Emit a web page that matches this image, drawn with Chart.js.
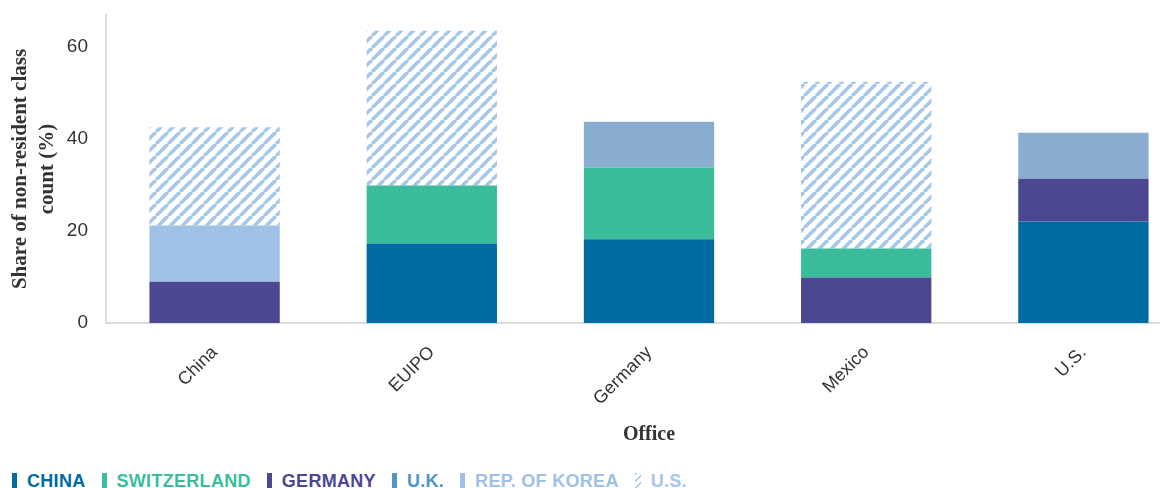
<!DOCTYPE html>
<html>
<head>
<meta charset="utf-8">
<script src="https://cdn.jsdelivr.net/npm/chart.js@4.4.1/dist/chart.umd.min.js"></script>
<style>
  html, body { margin: 0; padding: 0; background: #fff; overflow: hidden; width: 1160px; height: 488px; }
  #wrap { position: absolute; left: 0; top: 0; width: 1195px; height: 460px; }
  #legend { position: absolute; left: 12px; top: 471px; display: flex; align-items: center;
            font: bold 18px "Liberation Sans", Arial, sans-serif; letter-spacing: 0.3px; white-space: nowrap; }
  #legend .item { display: flex; align-items: center; margin-right: 16px; }
  #legend .swatch { width: 5px; height: 18px; margin-right: 10px; }
</style>
</head>
<body>
<div id="wrap"><canvas id="chart" width="1195" height="460"></canvas></div>
<div id="legend"></div>
<script>
// offices on the x axis
const offices = ['China', 'EUIPO', 'Germany', 'Mexico', 'U.S.'];

// share of non-resident class count (%) by origin, per office
const chinaShare       = [null, 17.3, 18.2, null, 22.1];
const germanyShare     = [9.0, null, null, 9.9, 9.3];
const switzerlandShare = [null, 12.6, 15.6, 6.3, null];
const ukShare          = [null, null, 10.0, null, 10.0];
const koreaShare       = [12.2, null, null, null, null];
const usShare          = [21.4, 33.7, null, 36.3, null];

const yTicks = [0, 20, 40, 60];

const colors = {
  china: '#006ba1',
  switzerland: '#3bbd9c',
  germany: '#4b4791',
  uk: '#89adcf',
  korea: '#a0c1e6',
  us: '#a6c6ea'
};

// diagonal stripes for the U.S. series
function stripePattern(color) {
  const s = 12;
  const c = document.createElement('canvas');
  c.width = s; c.height = s;
  const g = c.getContext('2d');
  g.strokeStyle = color;
  g.lineWidth = 3.6;
  for (const k of [-s, 0, s]) {
    g.beginPath();
    g.moveTo(k, s);
    g.lineTo(k + s, 0);
    g.stroke();
  }
  return g.createPattern(c, 'repeat');
}

const hatch = stripePattern(colors.us);

const datasets = [
  { label: 'China', data: chinaShare, backgroundColor: colors.china },
  { label: 'Germany', data: germanyShare, backgroundColor: colors.germany },
  { label: 'Switzerland', data: switzerlandShare, backgroundColor: colors.switzerland },
  { label: 'U.K.', data: ukShare, backgroundColor: colors.uk },
  { label: 'Rep. of Korea', data: koreaShare, backgroundColor: colors.korea },
  { label: 'U.S.', data: usShare, backgroundColor: hatch }
];

const axisGrey = '#dcdcdc';
const textGrey = '#333333';

new Chart(document.getElementById('chart'), {
  type: 'bar',
  data: { labels: offices, datasets: datasets },
  options: {
    responsive: false,
    animation: false,
    devicePixelRatio: 1,
    layout: { padding: { top: 15, right: 3, left: 0, bottom: 0 } },
    datasets: { bar: { categoryPercentage: 1, barPercentage: 0.6, borderWidth: 0 } },
    plugins: { legend: { display: false }, tooltip: { enabled: false } },
    scales: {
      x: {
        stacked: true,
        grid: { display: false },
        border: { color: axisGrey, width: 2 },
        ticks: {
          color: textGrey,
          font: { family: '"Liberation Sans", Arial, sans-serif', size: 18 },
          minRotation: 45, maxRotation: 45, padding: 11
        },
        title: {
          display: true, text: 'Office', color: textGrey,
          font: { family: '"Liberation Serif", serif', size: 20, weight: 'bold' },
          padding: { top: 0, bottom: 13 }
        },
        afterFit: s => { s.height = 137; }
      },
      y: {
        stacked: true,
        min: 0, max: 67,
        grid: { display: false },
        border: { color: axisGrey, width: 2 },
        afterBuildTicks: s => { s.ticks = yTicks.map(v => ({ value: v })); },
        ticks: {
          color: textGrey, padding: 10,
          font: { family: '"Liberation Sans", Arial, sans-serif', size: 19 }
        },
        title: {
          display: true, text: ['Share of non-resident class', 'count (%)'], color: textGrey,
          font: { family: '"Liberation Serif", serif', size: 21, weight: 'bold', lineHeight: 1.29 },
          padding: { top: 7, bottom: 0 }
        },
        afterFit: s => {
          s.width = 106;
          s.paddingTop = 0;
          s.paddingBottom = 0;
        }
      }
    }
  }
});

// legend below the chart
const legendItems = [
  { label: 'CHINA', color: colors.china },
  { label: 'SWITZERLAND', color: colors.switzerland },
  { label: 'GERMANY', color: colors.germany },
  { label: 'U.K.', color: '#4f96c6' },
  { label: 'REP. OF KOREA', color: colors.korea },
  { label: 'U.S.', color: colors.us, hatched: true }
];
const legend = document.getElementById('legend');
legendItems.forEach(it => {
  const item = document.createElement('div');
  item.className = 'item';
  const sw = document.createElement('span');
  sw.className = 'swatch';
  if (it.hatched) {
    sw.style.width = '6px';
    sw.style.background = 'repeating-linear-gradient(-45deg, ' + it.color + ' 0 2px, #fff 2px 5px)';
  } else {
    sw.style.background = it.color;
  }
  const tx = document.createElement('span');
  tx.textContent = it.label;
  tx.style.color = it.color;
  item.appendChild(sw);
  item.appendChild(tx);
  legend.appendChild(item);
});
</script>
</body>
</html>
